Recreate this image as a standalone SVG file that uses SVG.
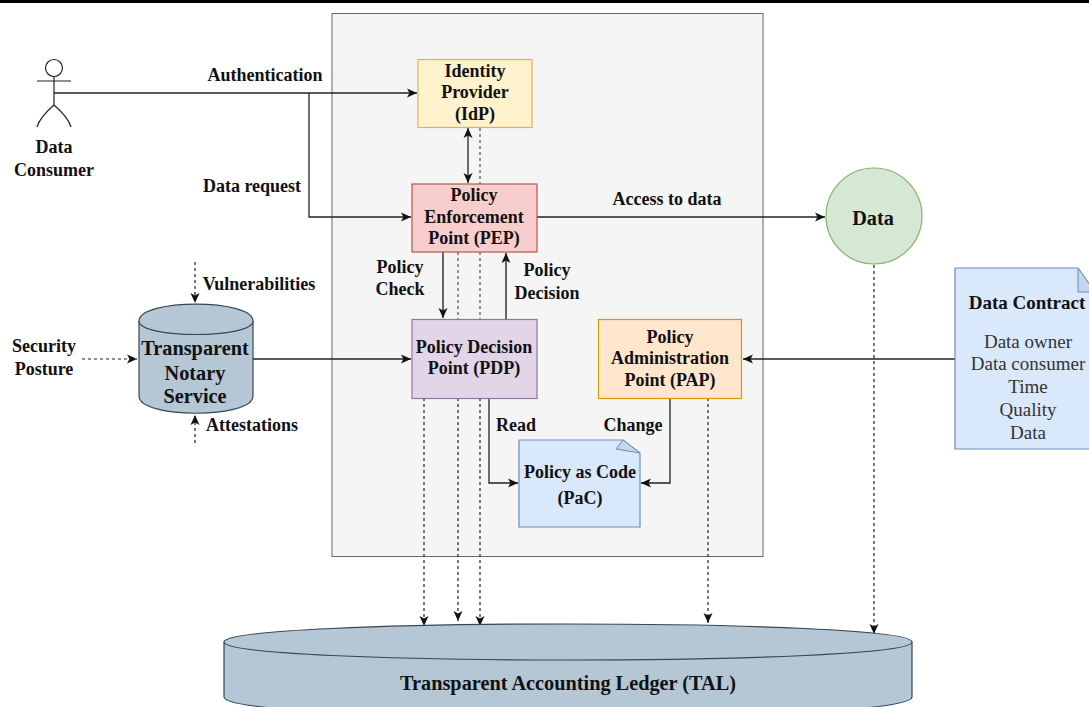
<svg xmlns="http://www.w3.org/2000/svg" width="1089" height="707" viewBox="0 0 1089 707">
<style>
text{font-family:"Liberation Serif","Times New Roman",serif;font-size:18px;font-weight:700;fill:#111;text-anchor:middle}
.r{font-weight:400;fill:#333;font-size:19px}
.k{font-size:19px}
.b{font-size:20.300px}
.n{stroke-width:1.2}
.c{fill:none;stroke:#222;stroke-width:1.3}
.g{stroke:#555;stroke-width:1.8}
.d{fill:none;stroke:#222;stroke-width:1.2;stroke-dasharray:3 3}
.f{fill:none;stroke:#888;stroke-width:1.8;stroke-dasharray:3 3}
.cyl{fill:#b5c6d5;stroke:#33475b;stroke-width:1.2}
</style>
<defs>
<marker id="a" markerUnits="userSpaceOnUse" markerWidth="12" markerHeight="12" refX="10" refY="6" orient="auto-start-reverse">
<path d="M0 1.5L10 6L0 10.5L2.5 6Z" fill="#111"/>
</marker>
</defs>
<rect width="1089" height="707" fill="#fff"/>
<rect x="0" y="0" width="1089" height="3" fill="#000"/>
<rect id="container" x="332" y="13.5" width="431" height="543" fill="#f5f5f5" stroke="#666" stroke-width="1"/>
<g id="connectors">
<path class="c" d="M54 93H417" marker-end="url(#a)"/>
<path class="c" d="M309 93V217H411" marker-end="url(#a)"/>
<path class="c" d="M468 128V183" marker-start="url(#a)" marker-end="url(#a)"/>
<path class="f" d="M480 128V184"/>
<path class="c" d="M537 217H825" marker-end="url(#a)"/>
<path class="c g" d="M443 252V318" marker-end="url(#a)"/>
<path class="c g" d="M506 319V253" marker-end="url(#a)"/>
<path class="f" d="M458 252V319"/>
<path class="f" d="M480 252V319"/>
<path class="c" d="M253 359H411" stroke-width="1" marker-end="url(#a)"/>
<path class="c" d="M955 359H743" marker-end="url(#a)"/>
<path class="c" d="M489 398V483H518" marker-end="url(#a)"/>
<path class="c" d="M670 398V483H641" marker-end="url(#a)"/>
<path class="d" d="M424 398V626" marker-end="url(#a)"/>
<path class="d" d="M458 398V621" marker-end="url(#a)"/>
<path class="d" d="M480 398V626" marker-end="url(#a)"/>
<path class="d" d="M708 398V623" marker-end="url(#a)"/>
<path class="d" d="M874 265V634" marker-end="url(#a)"/>
<path class="d" d="M82 359H137" marker-end="url(#a)"/>
<path class="d" d="M195 262V303" marker-end="url(#a)"/>
<path class="d" d="M195 443V415" marker-end="url(#a)"/>
</g>
<g id="actor" fill="none" stroke="#222" stroke-width="1.2">
<circle cx="54" cy="68" r="8.5"/>
<path d="M54 77V105M37 81H71M37 127Q40 117 54 105Q68 117 71 127"/>
</g>
<g id="consumer-label"><text x="54" y="153">Data</text><text x="54" y="176">Consumer</text></g>
<g id="idp"><rect class="n" x="418" y="59.500" width="114" height="68" fill="#fff2cc" stroke="#d6b656"/>
<text x="475" y="77">Identity</text><text x="475" y="98">Provider</text><text x="475" y="120">(IdP)</text></g>
<g id="pep"><rect class="n" x="412" y="184" width="125" height="68" fill="#f8cecc" stroke="#b85450"/>
<text x="474" y="201">Policy</text><text x="474" y="223">Enforcement</text><text x="474" y="244">Point (PEP)</text></g>
<g id="pdp"><rect class="n" x="412" y="319.500" width="125" height="79" fill="#e1d5e7" stroke="#9673a6"/>
<text x="474" y="353">Policy Decision</text><text x="474" y="374">Point (PDP)</text></g>
<g id="pap"><rect class="n" x="598.500" y="319.500" width="143" height="79" fill="#ffe6cc" stroke="#d79b00"/>
<text x="670" y="343">Policy</text><text x="670" y="364">Administration</text><text x="670" y="386">Point (PAP)</text></g>
<g id="pac"><path class="n" d="M519 440H623L640 453V527H519Z" fill="#dae8fc" stroke="#6c8ebf"/>
<path d="M623 440L616 449L640 453Z" fill="#c5d6ee" stroke="#6c8ebf"/>
<text x="580" y="478">Policy as Code</text><text x="580" y="504">(PaC)</text></g>
<g id="data"><circle cx="874" cy="216" r="48" fill="#d5e8d4" stroke="#82b366" stroke-width="1.2"/>
<text class="b" x="873" y="225">Data</text></g>
<g id="contract"><path class="n" d="M955 268H1078L1095 292V449H955Z" fill="#dae8fc" stroke="#6c8ebf"/>
<path d="M1078 268V292H1095Z" fill="#c5d6ee" stroke="#6c8ebf"/>
<text class="k" x="1027" y="309">Data Contract</text>
<text class="r" x="1028" y="348">Data owner</text><text class="r" x="1028" y="370">Data consumer</text><text class="r" x="1028" y="393">Time</text><text class="r" x="1028" y="416">Quality</text><text class="r" x="1028" y="439">Data</text></g>
<g id="tns"><path class="cyl" d="M139 321C139 298.500 253 298.500 253 321V396C253 419 139 419 139 396Z"/>
<path class="cyl" d="M139 321C139 339 253 339 253 321" fill="none"/>
<text class="b" x="195" y="355">Transparent</text><text class="b" x="195" y="380">Notary</text><text class="b" x="195" y="403">Service</text></g>
<g id="tal"><path class="cyl" d="M224 642C224 618 912 618 912 642V697C912 724 224 724 224 697Z"/>
<path class="cyl" d="M224 642C224 666 912 666 912 642" fill="none"/>
<text class="b" x="568" y="690">Transparent Accounting Ledger (TAL)</text></g>
<g id="labels">
<text x="265" y="81">Authentication</text>
<text x="252" y="192">Data request</text>
<text x="667" y="205">Access to data</text>
<text x="400" y="273">Policy</text><text x="400" y="295">Check</text>
<text x="547" y="276">Policy</text><text x="547" y="299">Decision</text>
<text x="259" y="290">Vulnerabilities</text>
<text x="44" y="352">Security</text><text x="44" y="375">Posture</text>
<text x="252" y="431">Attestations</text>
<text x="516" y="431">Read</text>
<text x="633" y="431">Change</text>
</g>
</svg>
